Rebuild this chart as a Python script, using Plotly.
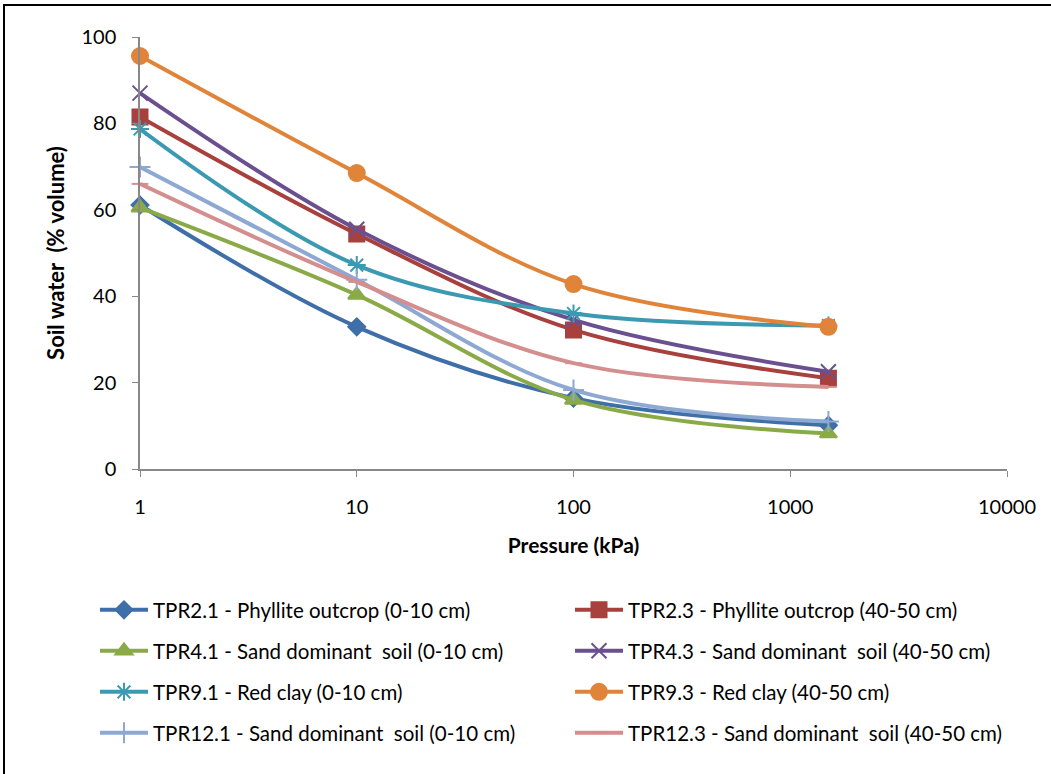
import plotly.graph_objects as go

pressure = [1, 10, 100, 1500]
names = [
    "TPR2.1 - Phyllite outcrop (0-10 cm)",
    "TPR2.3 - Phyllite outcrop (40-50 cm)",
    "TPR4.1 - Sand dominant  soil (0-10 cm)",
    "TPR4.3 - Sand dominant  soil (40-50 cm)",
    "TPR9.1 - Red clay (0-10 cm)",
    "TPR9.3 - Red clay (40-50 cm)",
    "TPR12.1 - Sand dominant  soil (0-10 cm)",
    "TPR12.3 - Sand dominant  soil (40-50 cm)",
]
tpr2_1 = [61.1, 32.9, 16.4, 10.1]
tpr2_3 = [81.5, 54.4, 32.2, 21.0]
tpr4_1 = [60.5, 40.3, 16.0, 8.2]
tpr4_3 = [87.0, 55.5, 34.5, 22.5]
tpr9_1 = [78.7, 47.2, 36.0, 33.2]
tpr9_3 = [95.6, 68.5, 42.8, 32.9]
tpr12_1 = [69.9, 43.8, 18.3, 11.0]
tpr12_3 = [66.0, 43.3, 24.5, 19.0]
series = [tpr2_1, tpr2_3, tpr4_1, tpr4_3, tpr9_1, tpr9_3, tpr12_1, tpr12_3]

colors = ["#3F6FA8", "#A8403E", "#8AAA48", "#6B5090", "#3B9AB2", "#E0843A", "#8DA8D2", "#D48E8E"]
symbols = ["diamond", "square", "triangle-up", "x-thin", "asterisk-open", "circle", "cross-thin", "line-ew"]
sizes = [13, 15, 15, 15, 15, 16, 15, 12]

FONT = "Lato"
fig = go.Figure()
legend_ids = ["legend", "legend", "legend2", "legend2", "legend3", "legend3", "legend4", "legend4"]
for i, (nm, ys) in enumerate(zip(names, series)):
    fig.add_trace(go.Scatter(
        x=pressure, y=ys, name=nm, mode="lines+markers", cliponaxis=False,
        line=dict(color=colors[i], width=4, shape="spline", smoothing=1.0),
        marker=dict(symbol=symbols[i], size=sizes[i], color=colors[i],
                    line=dict(color=colors[i], width=2)),
        legend=legend_ids[i],
    ))

PL, PT, PW, PH = 140, 37, 867, 432
leg_common = dict(orientation="h", xref="paper", yref="paper",
                  xanchor="left", yanchor="middle", x=(95 - PL) / PW,
                  font=dict(family=FONT, size=20.5, color="#000000"),
                  entrywidth=412, entrywidthmode="pixels", itemwidth=48,
                  bgcolor="rgba(0,0,0,0)", tracegroupgap=0)
rows_y = [610, 651, 692, 733]
legs = {}
for k, ry in zip(["legend", "legend2", "legend3", "legend4"], rows_y):
    d = dict(leg_common)
    d["y"] = (PT + PH - ry) / PH
    legs[k] = d

fig.update_layout(
    width=1051, height=774,
    margin=dict(l=PL, r=1051 - PL - PW, t=PT, b=774 - PT - PH),
    paper_bgcolor="white", plot_bgcolor="white",
    font=dict(family=FONT, size=20, color="#000000"),
    xaxis=dict(type="log", range=[0, 4], showgrid=False, zeroline=False,
               showline=True, linecolor="#888888", linewidth=1.5,
               ticks="outside", ticklen=6, tickcolor="#888888",
               tickvals=[1, 10, 100, 1000, 10000],
               ticktext=["1", "10", "100", "1000", "10000"],
               ticklabelstandoff=13,
               title=dict(text="<b>Pressure (kPa)</b>", font=dict(family=FONT, size=21), standoff=22)),
    yaxis=dict(range=[0, 100], showgrid=False, zeroline=False,
               showline=True, linecolor="#888888", linewidth=1.5,
               ticks="outside", ticklen=6, tickcolor="#888888",
               tickvals=[0, 20, 40, 60, 80, 100], ticklabelstandoff=12,
               title=dict(text="<b>Soil water  (% volume)</b>", font=dict(family=FONT, size=22), standoff=11)),
    showlegend=True,
    **legs,
)

fig.add_shape(type="rect", xref="paper", yref="paper",
              x0=(4 - PL) / PW, x1=(1060 - PL) / PW,
              y0=(PT + PH - 790) / PH, y1=1 + (PT - 5) / PH,
              line=dict(color="black", width=2), fillcolor="rgba(0,0,0,0)", layer="below")

fig.write_html("out.html")
